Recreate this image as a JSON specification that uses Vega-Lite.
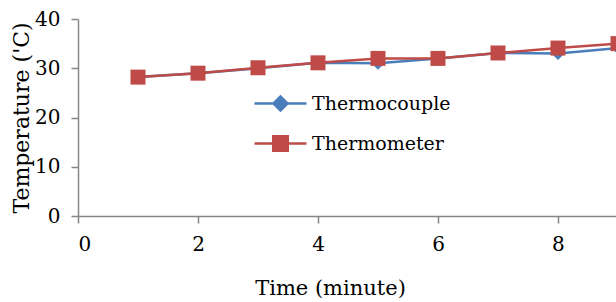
{
  "$schema": "https://vega.github.io/schema/vega-lite/v6.json",
  "width": 538,
  "height": 197,
  "autosize": "none",
  "padding": {"left": 78, "top": 19, "right": 0, "bottom": 86},
  "background": "white",
  "config": {"font": "DejaVu Serif", "view": {"stroke": null}},
  "data": {"values": [
    {"time": 1, "series": "Thermocouple", "temp": 28.2},
    {"time": 2, "series": "Thermocouple", "temp": 29},
    {"time": 3, "series": "Thermocouple", "temp": 30},
    {"time": 4, "series": "Thermocouple", "temp": 31.1},
    {"time": 5, "series": "Thermocouple", "temp": 31},
    {"time": 6, "series": "Thermocouple", "temp": 32},
    {"time": 7, "series": "Thermocouple", "temp": 33.1},
    {"time": 8, "series": "Thermocouple", "temp": 33},
    {"time": 9, "series": "Thermocouple", "temp": 34.1},
    {"time": 1, "series": "Thermometer", "temp": 28.2},
    {"time": 2, "series": "Thermometer", "temp": 29},
    {"time": 3, "series": "Thermometer", "temp": 30.1},
    {"time": 4, "series": "Thermometer", "temp": 31.1},
    {"time": 5, "series": "Thermometer", "temp": 32},
    {"time": 6, "series": "Thermometer", "temp": 32},
    {"time": 7, "series": "Thermometer", "temp": 33.1},
    {"time": 8, "series": "Thermometer", "temp": 34.1},
    {"time": 9, "series": "Thermometer", "temp": 35}
  ]},
  "encoding": {
    "x": {"field": "time", "type": "quantitative",
      "scale": {"domain": [0, 8.967], "nice": false, "zero": false},
      "axis": {"title": "Time (minute)", "values": [0, 2, 4, 6, 8], "grid": false,
        "domainColor": "#868686", "domainWidth": 1.5, "tickColor": "#868686", "tickWidth": 1.5, "tickSize": 7,
        "labelFontSize": 20, "labelColor": "black", "labelPadding": 11,
        "titleFontSize": 21, "titleFontWeight": "normal", "titleColor": "black", "titlePadding": 23,
        "titleX": 252, "titleAlign": "center"}},
    "y": {"field": "temp", "type": "quantitative",
      "scale": {"domain": [0, 40], "nice": false},
      "axis": {"title": "Temperature ('C)", "values": [0, 10, 20, 30, 40], "grid": false,
        "domainColor": "#868686", "domainWidth": 1.5, "tickColor": "#868686", "tickWidth": 1.5, "tickSize": 7,
        "labelFontSize": 20, "labelColor": "black", "labelPadding": 11,
        "titleFontSize": 22, "titleFontWeight": "normal", "titleColor": "black", "titlePadding": 1}},
    "color": {"field": "series", "type": "nominal",
      "scale": {"domain": ["Thermocouple", "Thermometer"], "range": ["#4A7EBB", "#BE4B48"]},
      "legend": {"orient": "none", "legendX": 175, "legendY": 57, "title": null,
        "symbolSize": 2704, "symbolStrokeWidth": 2.5, "rowPadding": -12,
        "labelFontSize": 19, "labelColor": "black", "labelOffset": 4,
        "encode": {"symbols": {"update": {
          "shape": [
            {"test": "datum.value === 'Thermocouple'", "value": "M-1,0L1,0M-0.27,0L0,-0.27L0.27,0L0,0.27Z"},
            {"value": "M-1,0L1,0M-0.28,-0.28L0.28,-0.28L0.28,0.28L-0.28,0.28Z"}
          ],
          "fill": {"scale": "color", "field": "value"},
          "stroke": {"scale": "color", "field": "value"},
          "opacity": {"value": 1},
          "fillOpacity": {"value": 1},
          "strokeWidth": {"value": 2.5}
        }}}}
    }
  },
  "layer": [
    {"transform": [{"filter": "datum.series === 'Thermocouple'"}],
     "mark": {"type": "line", "strokeWidth": 2.5, "clip": true}},
    {"transform": [{"filter": "datum.series === 'Thermocouple'"}],
     "mark": {"type": "point", "shape": "diamond", "filled": true, "opacity": 1, "size": 170, "clip": true}},
    {"transform": [{"filter": "datum.series === 'Thermometer'"}],
     "mark": {"type": "line", "strokeWidth": 2.5, "clip": true}},
    {"transform": [{"filter": "datum.series === 'Thermometer'"}],
     "mark": {"type": "point", "shape": "square", "filled": true, "opacity": 1, "size": 225, "clip": true}}
  ]
}
